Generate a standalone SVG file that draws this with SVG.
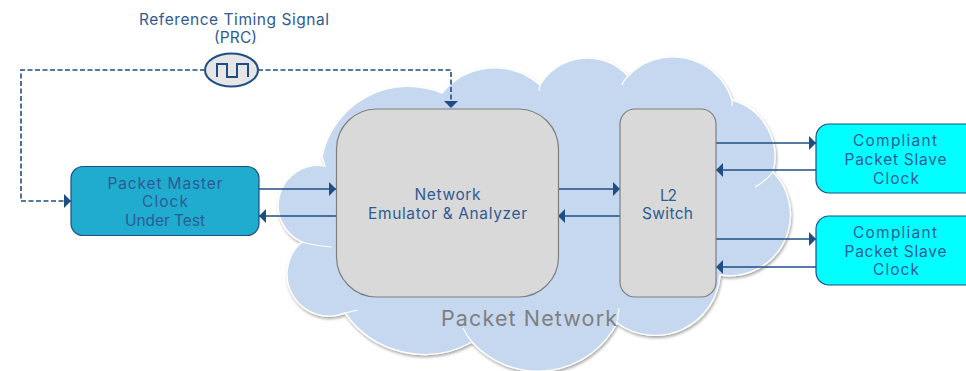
<svg xmlns="http://www.w3.org/2000/svg" width="966" height="371" viewBox="0 0 966 371">
<style>
text{font-family:"Inter","Open Sans","Liberation Sans",sans-serif;font-size:15.5px;fill:#2f5b94;text-anchor:middle}
.wire{fill:none;stroke:#1f4e85;stroke-width:1.6}
.dash{stroke-dasharray:5 2.5}
.box{fill:#d9d9d9;stroke:#7f7f7f;stroke-width:1.2}
.slave{fill:#00ffff;stroke:#1f4e85;stroke-width:1.2}
.inner{fill:none;stroke:#ffffff;stroke-width:1.2}
</style>
<defs>
<marker id="head" markerUnits="userSpaceOnUse" markerWidth="7" markerHeight="14" refX="7" refY="7" orient="auto"><path d="M0,0L7,7L0,14z" fill="#1f4e85"/></marker>
<filter id="sh" x="-5%" y="-5%" width="110%" height="115%"><feDropShadow dx="1" dy="2" stdDeviation="1.5" flood-color="#000" flood-opacity=".35"/></filter>
</defs>
<rect width="966" height="371" fill="#fff"/>
<g id="cloud">
<path d="M325,166A40,40 0 0 0 302,242A42,42 0 0 0 345,313A97,97 0 0 0 472,342A89,89 0 0 0 617,323A65,65 0 0 0 720,275A61,61 0 0 0 773,172A59,59 0 0 0 732,100A62,62 0 0 0 628,76A55,55 0 0 0 540,85A68,68 0 0 0 442,93A88,88 0 0 0 322,157L325,166z" fill="#c6d8f0" stroke="#fff" stroke-width="1.4" filter="url(#sh)"/>
<path class="inner" d="M302,242Q316,246 332,247M345,313L358,310M472,342Q467,336 463,328M617,323L619,308M773,172Q766,181 755,187M732,100L732,106M628,76Q624,80 622,85M540,85L539,91"/>
<text x="529" y="326" style="font-size:21.500px;fill:#7f7f7f" textLength="176">Packet Network</text>
</g>
<g id="connectors">
<path class="wire dash" d="M205,70H21V201H71" marker-end="url(#head)"/>
<path class="wire dash" d="M258,70H451V108" marker-end="url(#head)"/>
<path class="wire" d="M259,189H336" marker-end="url(#head)"/>
<path class="wire" d="M336,216H259" marker-end="url(#head)"/>
<path class="wire" d="M558,189H620" marker-end="url(#head)"/>
<path class="wire" d="M620,216H558" marker-end="url(#head)"/>
<path class="wire" d="M716,143H816" marker-end="url(#head)"/>
<path class="wire" d="M816,170H716" marker-end="url(#head)"/>
<path class="wire" d="M716,239H816" marker-end="url(#head)"/>
<path class="wire" d="M816,267H716" marker-end="url(#head)"/>
</g>
<g id="prc">
<text x="234" y="25" textLength="190">Reference Timing Signal</text>
<text x="235.500" y="43" textLength="43">(PRC)</text>
<ellipse cx="231.500" cy="70" rx="26.500" ry="16.500" fill="#e7e6e6" stroke="#1f4e85" stroke-width="2"/>
<path d="M217,77V64H227V77H237V64H248V77" fill="none" stroke="#1f4e85" stroke-width="2"/>
</g>
<g id="master">
<rect x="71" y="166.500" width="188" height="69" rx="12" fill="#1faccf" stroke="#1f4e85" stroke-width="1.2"/>
<text x="165" y="189" textLength="115">Packet Master</text>
<text x="165" y="207" textLength="46">Clock</text>
<text x="165" y="226" textLength="80">Under Test</text>
</g>
<g id="emulator">
<rect class="box" x="336.500" y="109" width="222" height="188" rx="40"/>
<text x="447.500" y="200" textLength="66">Network</text>
<text x="447.500" y="219" textLength="159">Emulator &amp; Analyzer</text>
</g>
<g id="switch">
<rect class="box" x="620" y="109" width="96" height="188" rx="15"/>
<text x="668.500" y="201" textLength="17">L2</text>
<text x="667.500" y="219" textLength="51">Switch</text>
</g>
<g id="slave1">
<rect class="slave" x="816" y="124" width="170" height="69" rx="13"/>
<text x="895" y="146" textLength="84">Compliant</text>
<text x="895.500" y="165" textLength="102">Packet Slave</text>
<text x="896" y="184" textLength="46">Clock</text>
</g>
<g id="slave2">
<rect class="slave" x="816" y="216" width="170" height="69" rx="13"/>
<text x="895" y="238" textLength="84">Compliant</text>
<text x="895.500" y="257" textLength="102">Packet Slave</text>
<text x="896" y="275" textLength="46">Clock</text>
</g>
</svg>
